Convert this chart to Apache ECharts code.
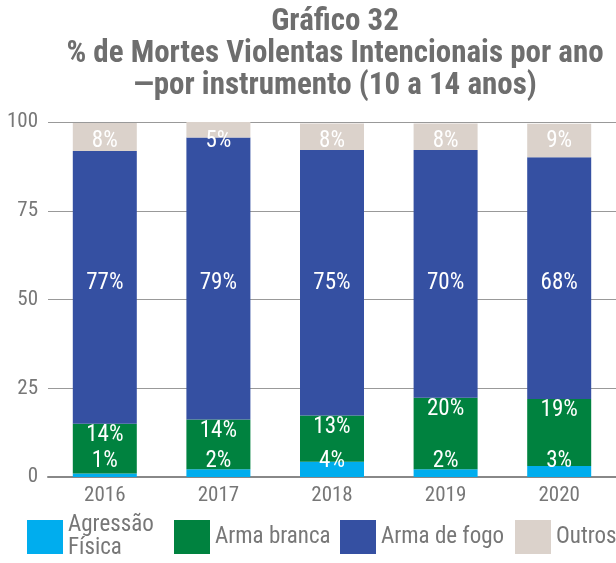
<!DOCTYPE html>
<html>
<head>
<meta charset="utf-8">
<script src="https://cdn.jsdelivr.net/npm/echarts@6/dist/echarts.min.js"></script>
<style>
html,body{margin:0;padding:0;background:#fff;}
#c{width:616px;height:563px;}
</style>
</head>
<body>
<div id="c"></div>
<script>
const FONT = "'Liberation Sans Narrow', 'Roboto Condensed', 'Arial Narrow', Roboto, sans-serif";
const titleLines = ['Gráfico 32', '% de Mortes Violentas Intencionais por ano', '—por instrumento (10 a 14 anos)'];
const categories = ['2016', '2017', '2018', '2019', '2020'];
const seriesNames = ['Agressão Física', 'Arma branca', 'Arma de fogo', 'Outros'];
const agressaoFisica = [1.0, 2.2, 4.3, 2.2, 3.1];
const armaBranca = [14.0, 14.0, 13.0, 20.1, 18.9];
const armaDeFogo = [76.8, 79.4, 74.8, 69.8, 68.1];
const outros = [7.9, 4.5, 7.5, 7.5, 9.4];
const yTicks = [0, 25, 50, 75, 100];
const colors = ['#00adee', '#00823f', '#3550a2', '#dbd2cb'];
const allValues = [agressaoFisica, armaBranca, armaDeFogo, outros];
// label anchors (axis values) for series whose labels sit at a common height
const fixedLabelValue = {2: 54.6, 3: 94.6};
const labelPos = ['insideBottom', 'insideTop', 'inside', 'inside'];
const labelDist = [4, 0, 5, 5];

const chart = echarts.init(document.getElementById('c'));
const textColor = '#777777';

function buildSeries(offsets) {
  return allValues.map((vals, i) => ({
    name: seriesNames[i],
    type: 'bar',
    stack: 'total',
    barWidth: 64,
    itemStyle: {color: colors[i]},
    label: {
      show: true,
      position: labelPos[i],
      distance: labelDist[i],
      color: '#ffffff',
      fontFamily: FONT,
      fontSize: 23,
      formatter: p => Math.round(p.value) + '%'
    },
    data: vals.map((v, j) => offsets && offsets[i] ? {value: v, label: {offset: [0, offsets[i][j]]}} : v)
  }));
}

const legendLeft = [27, 174, 340, 515];
const legendTop = [514, 520, 520, 520];
const legends = seriesNames.map((n, i) => ({
  data: [n],
  left: legendLeft[i],
  top: legendTop[i],
  padding: 0,
  orient: 'horizontal',
  itemWidth: 36,
  itemHeight: 34,
  icon: 'rect',
  selectedMode: false,
  formatter: name => name === 'Agressão Física' ? 'Agressão\nFísica' : name,
  textStyle: {color: textColor, fontFamily: FONT, fontSize: 23, lineHeight: 23}
}));

const option = {
  animation: false,
  color: colors,
  title: {
    text: titleLines.join('\n'),
    left: 330,
    top: 1,
    textAlign: 'center',
    textStyle: {color: '#6e6e6e', fontFamily: FONT, fontWeight: 'bold', fontSize: 31, lineHeight: 32}
  },
  legend: legends,
  grid: {left: 48, right: -2, top: 122, bottom: 86, containLabel: false},
  xAxis: {
    type: 'category',
    data: categories,
    axisLine: {lineStyle: {color: '#888888', width: 2}},
    axisTick: {show: false},
    axisLabel: {color: textColor, fontFamily: FONT, fontSize: 21, margin: 8}
  },
  yAxis: {
    type: 'value',
    min: yTicks[0],
    max: yTicks[yTicks.length - 1],
    interval: 25,
    axisLine: {show: false},
    axisTick: {show: false},
    splitLine: {lineStyle: {color: '#999999', width: 1}},
    axisLabel: {color: textColor, fontFamily: FONT, fontSize: 21, margin: 10}
  },
  series: buildSeries(null)
};
chart.setOption(option);

// move labels of fixed-height series to their common axis value
const offsets = {};
Object.keys(fixedLabelValue).forEach(k => {
  const i = +k;
  offsets[i] = categories.map((c, j) => {
    let base = 0;
    for (let s = 0; s < i; s++) base += allValues[s][j];
    const center = base + allValues[i][j] / 2;
    const pc = chart.convertToPixel({yAxisIndex: 0}, center);
    const pf = chart.convertToPixel({yAxisIndex: 0}, fixedLabelValue[i]);
    return pf - pc;
  });
});
chart.setOption({series: buildSeries(offsets)});
</script>
</body>
</html>
